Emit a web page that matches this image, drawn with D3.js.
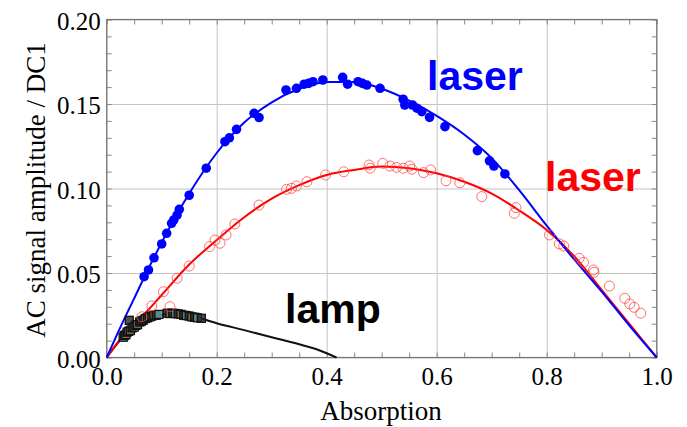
<!DOCTYPE html>
<html>
<head>
<meta charset="utf-8">
<script src="https://cdn.jsdelivr.net/npm/d3@7"></script>
<style>
  body { margin: 0; background: #fff; }
  .tick text { font-family: "Liberation Serif", "Times New Roman", serif; font-size: 25px; fill: #000; }
  .grid line { stroke: #c4c4c4; stroke-width: 1; }
  .minor line { stroke: #888; stroke-width: 1; }
  .domain { display: none; }
</style>
</head>
<body>
<div id="chart"></div>
<script>
// tick labels
var xTicks = [0, 0.2, 0.4, 0.6, 0.8, 1.0];
var yTicks = [0, 0.05, 0.10, 0.15, 0.20];

// laser data, blue filled circles
var blueX = [0.068, 0.076, 0.086, 0.100, 0.109, 0.118, 0.122, 0.128, 0.132, 0.150, 0.181, 0.215, 0.223, 0.236,
    0.268, 0.277, 0.326, 0.345, 0.359, 0.367, 0.375, 0.393, 0.429, 0.438, 0.457, 0.465, 0.473, 0.497, 0.539,
    0.542, 0.556, 0.564, 0.573, 0.587, 0.615, 0.674, 0.696, 0.704, 0.724];
var blueY = [0.0478, 0.0518, 0.0590, 0.0672, 0.0735, 0.0794, 0.0814, 0.0843, 0.0877, 0.0960, 0.1120, 0.1277, 0.1300, 0.1350,
    0.1445, 0.1420, 0.1583, 0.1593, 0.1617, 0.1622, 0.1632, 0.1642, 0.1658, 0.1617, 0.1632, 0.1622, 0.1612, 0.1593, 0.1528,
    0.1494, 0.1494, 0.1475, 0.1455, 0.1421, 0.1366, 0.1224, 0.1164, 0.1133, 0.1086];

// laser data, red open circles
var redX = [0.064, 0.082, 0.103, 0.115, 0.128, 0.150, 0.187, 0.197, 0.206, 0.217, 0.233, 0.277, 0.327, 0.336,
    0.345, 0.364, 0.398, 0.431, 0.477, 0.479, 0.502, 0.515, 0.527, 0.539, 0.551, 0.555, 0.576, 0.589, 0.617,
    0.642, 0.682, 0.741, 0.744, 0.805, 0.823, 0.831, 0.859, 0.867, 0.885, 0.886, 0.914, 0.942, 0.951, 0.959, 0.971];
var redY = [0.0241, 0.0305, 0.0389, 0.0301, 0.0469, 0.0541, 0.0656, 0.0695, 0.0676, 0.0725, 0.0790, 0.0902, 0.0995, 0.1001,
    0.1015, 0.1040, 0.1080, 0.1099, 0.1139, 0.1120, 0.1149, 0.1133, 0.1125, 0.1120, 0.1133, 0.1114, 0.1094, 0.1110, 0.1046,
    0.1034, 0.0952, 0.0853, 0.0887, 0.0725, 0.0672, 0.0660, 0.0587, 0.0563, 0.0518, 0.0504, 0.0423, 0.0350, 0.0317, 0.0297, 0.0262];

// lamp data, squares
var lampX = [0.030, 0.032, 0.035, 0.037, 0.040, 0.041, 0.043, 0.046, 0.050, 0.053, 0.056, 0.060, 0.063, 0.066, 0.070,
    0.074, 0.078, 0.082, 0.086, 0.090, 0.095, 0.110, 0.115, 0.120, 0.125, 0.130, 0.135, 0.140, 0.145, 0.150,
    0.155, 0.160, 0.165, 0.172];
var lampY = [0.0120, 0.0130, 0.0135, 0.0150, 0.0155, 0.0220, 0.0160, 0.0175, 0.0180, 0.0190, 0.0195, 0.0210, 0.0215, 0.0220, 0.0230,
    0.0235, 0.0240, 0.0245, 0.0250, 0.0250, 0.0255, 0.0262, 0.0260, 0.0262, 0.0260, 0.0258, 0.0255, 0.0250, 0.0248, 0.0245,
    0.0240, 0.0238, 0.0235, 0.0232];

// fitted curves
var fitX = [0, 0.025, 0.05, 0.075, 0.1, 0.15, 0.2, 0.25, 0.3, 0.35, 0.4, 0.45, 0.5, 0.55, 0.6, 0.65, 0.7, 0.75, 0.8, 0.85, 0.9, 0.95, 1.0];
var blueFit = [0, 0.018, 0.035, 0.052, 0.068, 0.097, 0.121, 0.139, 0.151, 0.159, 0.163, 0.163, 0.159, 0.152, 0.143, 0.132, 0.118, 0.099, 0.078, 0.058, 0.039, 0.019, 0];
var redFit = [0, 0.011, 0.020, 0.028, 0.037, 0.055, 0.0695, 0.083, 0.094, 0.102, 0.108, 0.111, 0.113, 0.112, 0.109, 0.104, 0.097, 0.087, 0.0755, 0.060, 0.040, 0.020, 0];
var lampFitX = [0, 0.02, 0.03, 0.04, 0.06, 0.08, 0.1, 0.12, 0.14, 0.17, 0.2, 0.25, 0.3, 0.35, 0.38, 0.4, 0.418];
var lampFit = [0, 0.0085, 0.0123, 0.0158, 0.021, 0.024, 0.0253, 0.026, 0.0255, 0.0232, 0.0203, 0.0162, 0.012, 0.0078, 0.005, 0.0025, 0];

var width = 687, height = 427;
var margin = {left: 106.7, right: 30.3, top: 19.5, bottom: 69.5};
var w = width - margin.left - margin.right;
var h = height - margin.top - margin.bottom;

var x = d3.scaleLinear().domain([0, 1]).range([0, w]);
var y = d3.scaleLinear().domain([0, 0.2]).range([h, 0]);

var svg = d3.select("#chart").append("svg").attr("width", width).attr("height", height);
var g = svg.append("g").attr("transform", "translate(" + margin.left + "," + margin.top + ")");

// grid
g.append("g").attr("class", "grid")
    .attr("transform", "translate(0," + h + ")")
    .call(d3.axisBottom(x).tickValues(xTicks).tickSize(-h).tickFormat(""));
g.append("g").attr("class", "grid")
    .call(d3.axisLeft(y).tickValues(yTicks).tickSize(-w).tickFormat(""));

// minor ticks on all sides
var xMinor = d3.range(0, 1.0001, 0.05);
var yMinor = d3.range(0, 0.2001, 0.01);
g.append("g").attr("class", "minor").attr("transform", "translate(0," + h + ")")
    .call(d3.axisBottom(x).tickValues(xMinor).tickSize(-5).tickFormat(""));
g.append("g").attr("class", "minor")
    .call(d3.axisTop(x).tickValues(xMinor).tickSize(-5).tickFormat(""));
g.append("g").attr("class", "minor")
    .call(d3.axisLeft(y).tickValues(yMinor).tickSize(-5).tickFormat(""));
g.append("g").attr("class", "minor").attr("transform", "translate(" + w + ",0)")
    .call(d3.axisRight(y).tickValues(yMinor).tickSize(-5).tickFormat(""));

// frame
g.append("rect").attr("width", w).attr("height", h)
    .attr("fill", "none").attr("stroke", "#777").attr("stroke-width", 1.2);

// tick labels
g.append("g").attr("transform", "translate(0," + h + ")")
    .call(d3.axisBottom(x).tickValues(xTicks).tickSize(0).tickPadding(10).tickFormat(d3.format(".1f")));
g.append("g")
    .call(d3.axisLeft(y).tickValues(yTicks).tickSize(0).tickPadding(6).tickFormat(d3.format(".2f")))
    .selectAll("text").attr("dy", "0.38em");

// curves
function curve(xs, ys) {
    return d3.line().x(function (d, i) { return x(xs[i]); }).y(function (d) { return y(d); })
        .curve(d3.curveMonotoneX)(ys);
}
g.append("path").attr("d", curve(lampFitX, lampFit)).attr("fill", "none").attr("stroke", "#111").attr("stroke-width", 2);
g.append("path").attr("d", curve(fitX, redFit)).attr("fill", "none").attr("stroke", "#ff0000").attr("stroke-width", 2);
g.append("path").attr("d", curve(fitX, blueFit)).attr("fill", "none").attr("stroke", "#0000ff").attr("stroke-width", 2);

// lamp squares
g.selectAll(".sq").data(lampY).enter().append("rect")
    .attr("x", function (d, i) { return x(lampX[i]) - 4; })
    .attr("y", function (d) { return y(d) - 4; })
    .attr("width", 8).attr("height", 8)
    .attr("fill", function (d, i) { return i % 4 === 0 ? "#6aa0b0" : (i % 4 === 2 ? "#a07a40" : "#222"); })
    .attr("fill-opacity", 0.8)
    .attr("stroke", "#111").attr("stroke-width", 1.3);

// red open circles
g.selectAll(".rc").data(redY).enter().append("circle")
    .attr("cx", function (d, i) { return x(redX[i]); })
    .attr("cy", function (d) { return y(d); })
    .attr("r", 5).attr("fill", "none")
    .attr("stroke", "#ff4040").attr("stroke-opacity", 0.75).attr("stroke-width", 1);

// blue filled circles
g.selectAll(".bc").data(blueY).enter().append("circle")
    .attr("cx", function (d, i) { return x(blueX[i]); })
    .attr("cy", function (d) { return y(d); })
    .attr("r", 4.8).attr("fill", "#0000ff");

// annotations
svg.append("text").attr("x", 427).attr("y", 90).text("laser")
    .attr("font-family", "Liberation Sans, Arial, sans-serif").attr("font-weight", "bold")
    .attr("font-size", 41).attr("fill", "#0000ff");
svg.append("text").attr("x", 545).attr("y", 191).text("laser")
    .attr("font-family", "Liberation Sans, Arial, sans-serif").attr("font-weight", "bold")
    .attr("font-size", 41).attr("fill", "#ff0000");
svg.append("text").attr("x", 285).attr("y", 323).text("lamp")
    .attr("font-family", "Liberation Sans, Arial, sans-serif").attr("font-weight", "bold")
    .attr("font-size", 41).attr("fill", "#000");

// axis titles
svg.append("text").attr("x", 381).attr("y", 420).attr("text-anchor", "middle")
    .attr("font-family", "Liberation Serif, Times New Roman, serif").attr("font-size", 27)
    .text("Absorption");
svg.append("text").attr("transform", "translate(45,190) rotate(-90)").attr("text-anchor", "middle")
    .attr("font-family", "Liberation Serif, Times New Roman, serif").attr("font-size", 27)
    .text("AC signal amplitude / DC1");
</script>
</body>
</html>
